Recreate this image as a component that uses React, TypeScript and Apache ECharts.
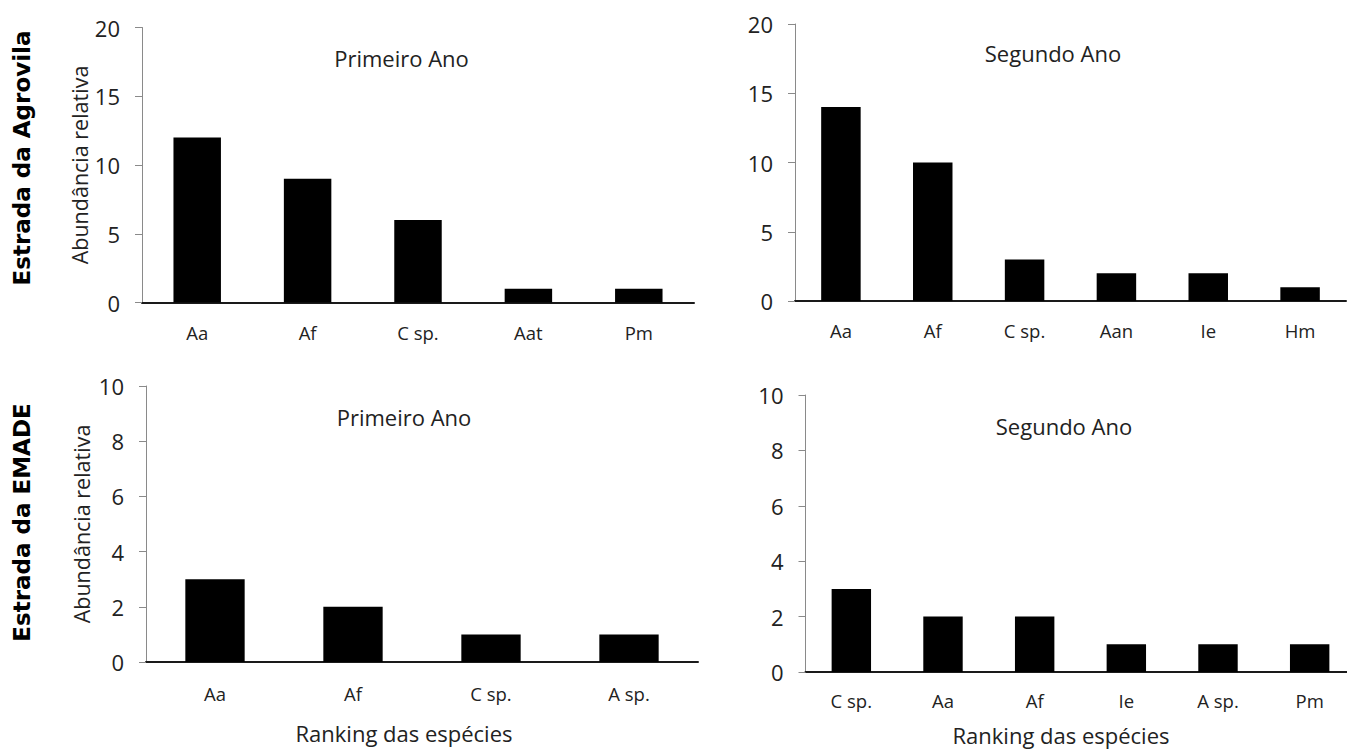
import React, { useEffect, useRef } from "react";
import * as echarts from "echarts";

// ---- data ----
const agroYear1Cats = ["Aa", "Af", "C sp.", "Aat", "Pm"];
const agroYear1Vals = [12, 9, 6, 1, 1];
const agroYear2Cats = ["Aa", "Af", "C sp.", "Aan", "Ie", "Hm"];
const agroYear2Vals = [14, 10, 3, 2, 2, 1];
const emadeYear1Cats = ["Aa", "Af", "C sp.", "A sp."];
const emadeYear1Vals = [3, 2, 1, 1];
const emadeYear2Cats = ["C sp.", "Aa", "Af", "Ie", "A sp.", "Pm"];
const emadeYear2Vals = [3, 2, 2, 1, 1, 1];
const agroAxis = { max: 20, interval: 5 };
const emadeAxis = { max: 10, interval: 2 };
const yName = "Abundância relativa";
const xName = "Ranking das espécies";
const title1 = "Primeiro Ano";
const title2 = "Segundo Ano";
const rowAgro = "Estrada da Agrovila";
const rowEmade = "Estrada da EMADE";

const FONT = '"Open Sans", sans-serif';
const TXT = "#222";

export default function App() {
  const ref = useRef<HTMLDivElement>(null);
  useEffect(() => {
    if (!ref.current) return;
    const chart = echarts.init(ref.current, undefined, { renderer: "svg" });
    const panels = [
      { cats: agroYear1Cats, vals: agroYear1Vals, ax: agroAxis, grid: { left: 142, top: 27.5, width: 552, height: 275 }, yName: yName, nameGap: 50, labelMargin: 20 },
      { cats: agroYear2Cats, vals: agroYear2Vals, ax: agroAxis, grid: { left: 795, top: 24, width: 551, height: 277 }, yName: "", nameGap: 50, labelMargin: 20 },
      { cats: emadeYear1Cats, vals: emadeYear1Vals, ax: emadeAxis, grid: { left: 146, top: 386, width: 552, height: 276 }, yName: yName, nameGap: 54, labelMargin: 22 },
      { cats: emadeYear2Cats, vals: emadeYear2Vals, ax: emadeAxis, grid: { left: 805.5, top: 395, width: 550, height: 277 }, yName: "", nameGap: 50, labelMargin: 19 },
    ];
    const textEl = (text: string, x: number, y: number, size: number, opts: any = {}) => ({
      type: "text",
      x,
      y,
      rotation: opts.rotation || 0,
      style: {
        text,
        fontFamily: opts.family || FONT,
        fontSize: size,
        fontWeight: opts.weight || "normal",
        fill: opts.fill || TXT,
        textAlign: "center",
        textVerticalAlign: "middle",
      },
    });
    const option: any = {
      animation: false,
      backgroundColor: "#ffffff",
      grid: panels.map((p) => ({ ...p.grid, containLabel: false, outerBoundsMode: "none" })),
      xAxis: panels.map((p, i) => ({
        type: "category",
        gridIndex: i,
        data: p.cats,
        axisLine: { show: true, onZero: true, lineStyle: { color: "#1a1a1a", width: 2 } },
        axisTick: { show: false },
        axisLabel: { color: TXT, fontSize: 18.5, fontFamily: FONT, margin: p.labelMargin, interval: 0 },
        splitLine: { show: false },
      })),
      yAxis: panels.map((p, i) => ({
        type: "value",
        gridIndex: i,
        min: 0,
        max: p.ax.max,
        interval: p.ax.interval,
        axisLine: { show: true, lineStyle: { color: "#8a8a8a", width: 1 } },
        axisTick: { show: true, length: 7, lineStyle: { color: "#8a8a8a" } },
        axisLabel: { color: TXT, fontSize: 22, fontFamily: FONT, margin: 22 },
        splitLine: { show: false },
        name: p.yName,
        nameLocation: "middle",
        nameGap: p.nameGap,
        nameTextStyle: { color: TXT, fontSize: 21.5, fontFamily: FONT },
      })),
      series: panels.map((p, i) => ({
        type: "bar",
        xAxisIndex: i,
        yAxisIndex: i,
        data: p.vals,
        barCategoryGap: "57%",
        itemStyle: { color: "#000000" },
      })),
      graphic: [
        textEl(title1, 401.5, 57.6, 22),
        textEl(title2, 1053, 52.6, 22),
        textEl(title1, 404, 416.6, 22),
        textEl(title2, 1064, 425.6, 22),
        textEl(xName, 404, 732.6, 22),
        textEl(xName, 1061, 734.6, 22),
        textEl(rowAgro, 22, 158, 23, { rotation: Math.PI / 2, family: '"DejaVu Sans", sans-serif', weight: "bold", fill: "#000" }),
        textEl(rowEmade, 22, 522.5, 23, { rotation: Math.PI / 2, family: '"DejaVu Sans", sans-serif', weight: "bold", fill: "#000" }),
      ],
    };
    chart.setOption(option);
    return () => chart.dispose();
  }, []);
  return (
    <div
      ref={ref}
      style={{ position: "fixed", left: 0, top: 0, width: 1347, height: 755, background: "#fff" }}
    />
  );
}
